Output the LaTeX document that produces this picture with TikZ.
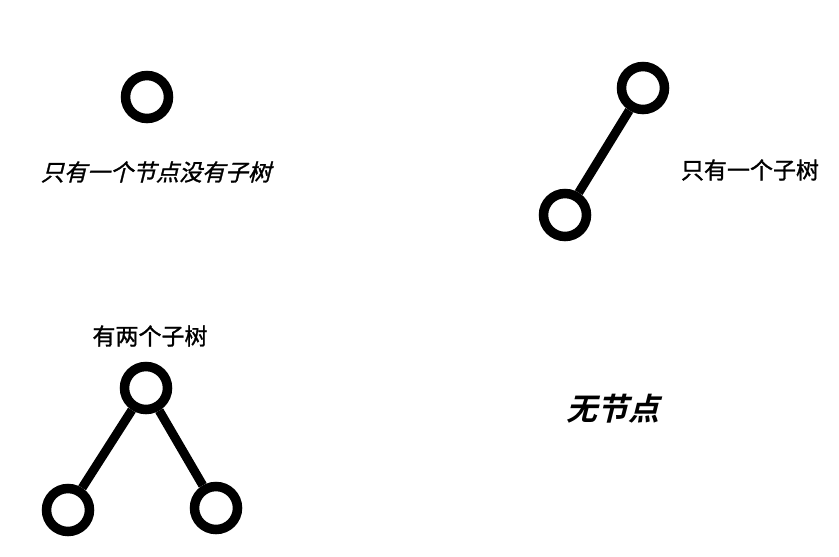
\documentclass[tikz,border=0pt]{standalone}
\usepackage{fontspec}
\newfontfamily\cjk[FakeBold=1.2]{Noto Sans CJK SC}
\newfontfamily\cjkit[FakeSlant=0.25,FakeBold=1.2]{Noto Sans CJK SC}
\newfontfamily\cjkbit[FakeSlant=0.25]{Noto Sans CJK SC Bold}
\begin{document}
\begin{tikzpicture}[x=1pt,y=-1pt,
  tnode/.style={circle,draw=black,line width=9.5pt,minimum size=43pt,inner sep=0pt,fill=white},
  edge/.style={line width=9pt,draw=black},
  lbl/.style={inner sep=0pt,font=\fontsize{23}{23}\selectfont}]
\useasboundingbox[fill=white] (0,0) rectangle (839,557);
% single node
\node[tnode] (a) at (147,97) {};
\node[lbl,font=\cjkit\fontsize{23}{23}\selectfont] (ta) at (156,172) {只有一个节点没有子树};
% one subtree
\node[tnode] (b1) at (643,88) {};
\node[tnode] (b2) at (565,215) {};
\draw[edge] (b1) -- (b2);
\node[lbl,font=\cjk\fontsize{23}{23}\selectfont] (tb) at (750,170) {只有一个子树};
% two subtrees
\node[lbl,font=\cjk\fontsize{23}{23}\selectfont] (tc) at (150,336) {有两个子树};
\node[tnode] (c1) at (146,388) {};
\node[tnode] (c2) at (68,510) {};
\node[tnode] (c3) at (216,508) {};
\draw[edge] (c1) -- (c2);
\draw[edge] (c1) -- (c3);
% no node
\node[lbl,font=\cjkbit\fontsize{31}{31}\selectfont] (td) at (613,409) {无节点};
\end{tikzpicture}
\end{document}
